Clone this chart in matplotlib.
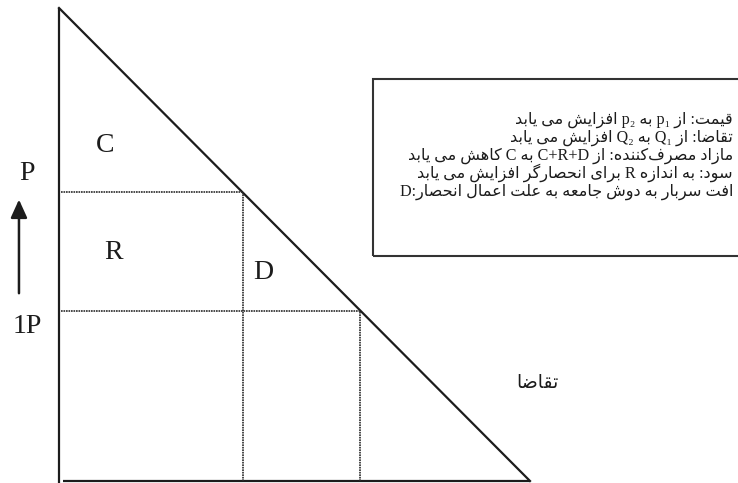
import matplotlib
matplotlib.use('Agg')
import matplotlib.pyplot as plt
from matplotlib.patches import Rectangle

# demand curve  P = choke_price - demand_slope * Q
choke_price = 10.0
demand_slope = 1.0
price_levels = [3.6, 6.1]          # p1 (competitive), p2 (monopoly)
price_labels = ['1P', 'P']
area_labels = ['C', 'R', 'D']
demand_label = 'تقاضا'
notes = [
    'قیمت: از p₁ به p₂ افزایش می یابد',
    'تقاضا: از Q₁ به Q₂ افزایش می یابد',
    'مازاد مصرف\u200cکننده: از C+R+D به C کاهش می یابد',
    'سود: به اندازه R برای انحصارگر افزایش می یابد',
    'افت سربار به دوش جامعه به علت اعمال انحصار:D',
]

# --- minimal persian shaping (matplotlib has no bidi / joining) ---
RIGHT_JOIN = set('اآدذرزژو')
FORMS = {
    'ا': (0xFE8D, 0xFE8E), 'د': (0xFEA9, 0xFEAA), 'ذ': (0xFEAB, 0xFEAC),
    'ر': (0xFEAD, 0xFEAE), 'ز': (0xFEAF, 0xFEB0), 'ژ': (0xFB8A, 0xFB8B),
    'و': (0xFEED, 0xFEEE),
    'ب': 0xFE8F, 'ت': 0xFE95, 'ث': 0xFE99, 'ج': 0xFE9D, 'ح': 0xFEA1,
    'خ': 0xFEA5, 'س': 0xFEB1, 'ش': 0xFEB5, 'ص': 0xFEB9, 'ض': 0xFEBD,
    'ط': 0xFEC1, 'ظ': 0xFEC5, 'ع': 0xFEC9, 'غ': 0xFECD, 'ف': 0xFED1,
    'ق': 0xFED5, 'ل': 0xFEDD, 'م': 0xFEE1, 'ن': 0xFEE5, 'ه': 0xFEE9,
    'پ': 0xFB56, 'چ': 0xFB7A, 'ک': 0xFB8E, 'گ': 0xFB92, 'ی': 0xFBFC,
}


def shape(s):
    out = []
    for i, ch in enumerate(s):
        if ch not in FORMS:
            out.append(ch)
            continue
        prev = s[i-1] if i > 0 else ''
        nxt = s[i+1] if i+1 < len(s) else ''
        jp = prev in FORMS and prev not in RIGHT_JOIN
        jn = ch not in RIGHT_JOIN and nxt in FORMS
        f = FORMS[ch]
        if ch in RIGHT_JOIN:
            out.append(chr(f[1] if jp else f[0]))
        else:
            k = 3 if (jp and jn) else 1 if jp else 2 if jn else 0
            out.append(chr(f + k))
    return ''.join(out).replace('\u200c', '')


def is_ltr(ch):
    return (ch.isascii() and (ch.isalnum() or ch == '+')) or ch in '₁₂'


def visual(s):
    s = shape(s)
    runs = []
    for ch in s:
        l = is_ltr(ch)
        if runs and runs[-1][0] == l:
            runs[-1][1] += ch
        else:
            runs.append([l, ch])
    return ''.join(r if l else r[::-1] for l, r in reversed(runs))


def quantity(p):
    return (choke_price - p) / demand_slope


fig = plt.figure(figsize=(7.38, 4.83), dpi=100)
ax = fig.add_axes([0, 0, 1, 1])
ax.set_xlim(-1.2527, 14.416)
ax.set_ylim(-0.0423, 10.169)
ax.axis('off')

ink = '#1c1c1c'
serif = ['Liberation Serif', 'DejaVu Sans']

# axes and demand curve
q_max = quantity(0)
ax.plot([0, 0], [-0.05, choke_price], color=ink, lw=1.6, solid_capstyle='butt')
ax.plot([0.08, q_max], [0, 0], color=ink, lw=1.6, solid_capstyle='butt')
ax.plot([0, q_max], [choke_price, 0], color=ink, lw=1.6)

# price / quantity guides
for p in price_levels:
    q = quantity(p)
    ax.plot([0.05, q], [p, p], color='#2a2a2a', lw=1.2, ls=(0, (1, 0.5)))
    ax.plot([q, q], [0, p], color='#2a2a2a', lw=1.2, ls=(0, (1, 0.5)))

# area labels
for lab, (x, y) in zip(area_labels, [(0.98, 7.1), (1.15, 4.84), (4.33, 4.4)]):
    ax.text(x, y, lab, fontsize=20, family=serif, color=ink, ha='center', va='center')

# price labels and arrow
for lab, y in zip(price_labels, [3.26, 6.5]):
    ax.text(-0.68, y, lab, fontsize=20, family=serif, color=ink, ha='center', va='center')
ax.annotate('', xy=(-0.85, 5.95), xytext=(-0.85, 3.97),
            arrowprops=dict(arrowstyle='-|>,head_length=0.55,head_width=0.25',
                            mutation_scale=20, color=ink, lw=1.8,
                            shrinkA=0, shrinkB=0))

ax.text(10.15, 2.09, visual(demand_label), fontsize=13.5, family=['DejaVu Sans'],
        color=ink, ha='center', va='center')

# notes box
ax.add_patch(Rectangle((6.67, 4.76), 8.2, 3.74, fill=False, ec='#333333', lw=1.5,
                       clip_on=False))
for line, y in zip(notes, [7.63, 7.25, 6.87, 6.51, 6.11]):
    ax.text(14.31, y, visual(line), fontsize=11.6, family=serif, color=ink,
            ha='right', va='center')

fig.savefig('out.png', dpi=100)
